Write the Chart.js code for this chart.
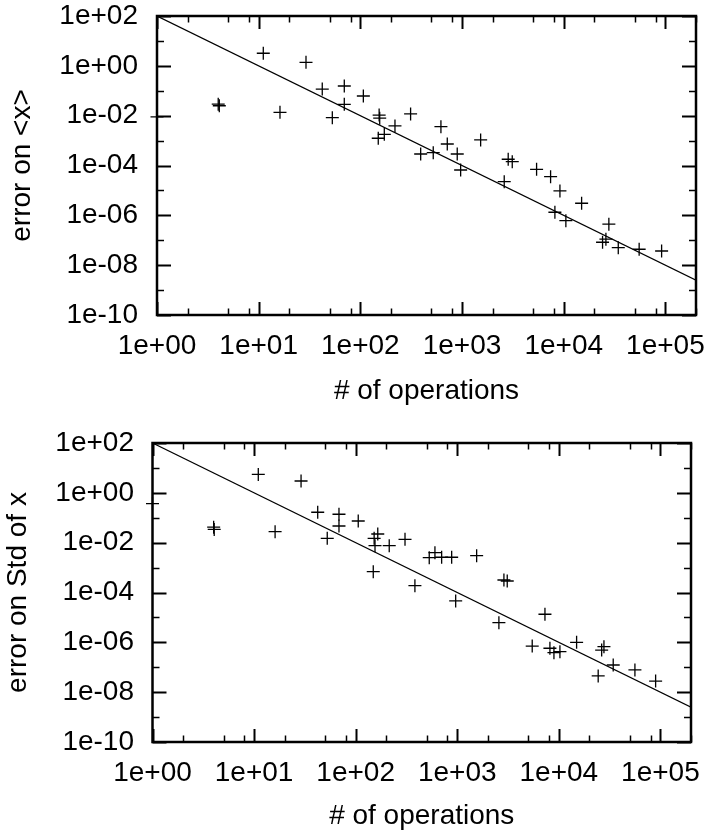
<!DOCTYPE html>
<html>
<head>
<meta charset="utf-8">
<script src="https://cdn.jsdelivr.net/npm/chart.js@4.4.1/dist/chart.umd.min.js"></script>
<style>
html, body { margin: 0; padding: 0; background: #fff; }
.caja { position: absolute; left: 0; width: 707px; height: 418px; }
</style>
</head>
<body>
<div class="caja" style="top:0"><canvas id="grafica-media" width="707" height="418"></canvas></div>
<div class="caja" style="top:418px"><canvas id="grafica-std" width="707" height="418"></canvas></div>
<script>
// error on <x>: number of operations vs error
var opsMedia = [
    1, 4.0, 4.1, 11.1, 16.2, 29.2, 42.2, 53, 69.5, 69.5,
    107, 153, 155, 150, 172, 219, 312, 392, 521, 620,
    716, 897, 969, 1524, 2600, 2845, 3118, 5410, 7430, 9180,
    8190, 10500, 15000, 27800, 24100, 26000, 34400, 55200, 91800
];
var errMedia = [
    0.009, 0.029, 0.025, 3.2, 0.0136, 1.38, 0.117, 0.0083, 0.155, 0.0286,
    0.0616, 0.0106, 0.0079, 0.00124, 0.00179, 0.00386, 0.0117, 2.9e-4, 3.27e-4, 0.00362,
    7.3e-4, 2.9e-4, 6.6e-5, 1.06e-3, 2.24e-5, 1.78e-4, 1.42e-4, 7.05e-5, 3.56e-5, 9.5e-6,
    1.33e-6, 6.1e-7, 3.05e-6, 4.4e-7, 8.3e-8, 1.1e-7, 5.04e-8, 4.35e-8, 3.7e-8
];

// error on Std of x
var opsStd = [
    1, 4.0, 4.05, 11, 16.1, 29, 42.3, 52.5, 68.5, 68.5,
    106, 165, 152, 155, 149, 214, 306, 383, 530, 603,
    702, 881, 965, 1552, 2570, 2880, 3105, 5470, 7300, 8170,
    8950, 10250, 14960, 24400, 26400, 27800, 34300, 56100, 89700
];
var errStd = [
    0.37, 0.042, 0.034, 5.5, 0.0276, 2.99, 0.166, 0.015, 0.138, 0.0467,
    0.074, 0.0223, 0.015, 0.0076, 6.85e-4, 0.0076, 0.0136, 1.88e-4, 2.5e-3, 3.96e-3,
    2.6e-3, 2.6e-3, 4.57e-5, 3.0e-3, 6.15e-6, 3.18e-4, 2.9e-4, 7.1e-7, 1.34e-5, 5.8e-7,
    3.85e-7, 4.2e-7, 1.0e-6, 4.47e-8, 4.9e-7, 6.7e-7, 1.23e-7, 7.8e-8, 2.8e-8
];

// recta de referencia (pendiente -2), extremos
var ajusteX = [1, 200000];
var ajusteY = [100, 2.5e-9];

var xTicks = [1, 10, 100, 1000, 10000, 100000];
var xTickLabels = ['1e+00', '1e+01', '1e+02', '1e+03', '1e+04', '1e+05'];
var yTicks = [1e2, 1, 1e-2, 1e-4, 1e-6, 1e-8, 1e-10];
var yTickLabels = ['1e+02', '1e+00', '1e-02', '1e-04', '1e-06', '1e-08', '1e-10'];

var fuente = { family: "'Liberation Sans', Arial, sans-serif", size: 28 };

// marco y marcas hacia dentro, como en gnuplot
var marco = {
    id: 'marco',
    afterDatasetsDraw(chart) {
        var ctx = chart.ctx, a = chart.chartArea;
        var sx = chart.scales.x, sy = chart.scales.y;
        ctx.save();
        ctx.strokeStyle = '#000';
        for (var e = -10; e <= 2; e++) {
            var py = Math.round(sy.getPixelForValue(Math.pow(10, e))) + 0.5;
            var par = (e % 2 === 0);
            var len = par ? 14 : 7;
            ctx.lineWidth = par ? 2 : 1.5;
            ctx.beginPath();
            ctx.moveTo(a.left, py); ctx.lineTo(a.left + len, py);
            ctx.moveTo(a.right, py); ctx.lineTo(a.right - len, py);
            ctx.stroke();
        }
        for (var d = 0; d <= 5; d++) {
            [1, 2, 5, 8].forEach(function (m) {
                var v = m * Math.pow(10, d);
                if (v > sx.max) return;
                var px = Math.round(sx.getPixelForValue(v)) + 0.5;
                var len = m === 1 ? 13 : 6.5;
                ctx.lineWidth = m === 1 ? 2 : 1.5;
                ctx.beginPath();
                ctx.moveTo(px, a.bottom); ctx.lineTo(px, a.bottom - len);
                ctx.moveTo(px, a.top); ctx.lineTo(px, a.top + len);
                ctx.stroke();
            });
        }
        ctx.lineWidth = 2.5;
        ctx.strokeRect(a.left, a.top, a.right - a.left, a.bottom - a.top);
        ctx.restore();
    }
};

function sinRelleno(s) {
    s.paddingTop = 0; s.paddingBottom = 0; s.paddingLeft = 0; s.paddingRight = 0;
}

function crearGrafica(id, ops, err, tituloY, caja) {
    var puntos = ops.map((v, i) => ({ x: v, y: err[i] }));
    var recta = ajusteX.map((v, i) => ({ x: v, y: ajusteY[i] }));
    return new Chart(document.getElementById(id), {
        type: 'scatter',
        data: {
            datasets: [{
                data: puntos,
                pointStyle: 'cross',
                pointRadius: 6.5,
                pointHoverRadius: 6.5,
                borderColor: '#000',
                borderWidth: 1.3,
                clip: false
            }, {
                type: 'line',
                data: recta,
                showLine: true,
                pointRadius: 0,
                borderColor: '#000',
                borderWidth: 1.2,
                fill: false
            }]
        },
        options: {
            responsive: false,
            animation: false,
            devicePixelRatio: 1,
            layout: { padding: { top: caja.top, right: caja.right, left: 0, bottom: 0 } },
            plugins: { legend: { display: false }, tooltip: { enabled: false } },
            scales: {
                x: {
                    type: 'logarithmic',
                    min: 1,
                    max: 200000,
                    afterBuildTicks: s => { s.ticks = xTicks.map(v => ({ value: v })); },
                    afterFit: s => { s.height = caja.ejeX; sinRelleno(s); },
                    grid: { display: false, drawTicks: false },
                    border: { display: false },
                    ticks: {
                        autoSkip: false, maxRotation: 0, padding: 14,
                        color: '#000', font: fuente,
                        callback: (v, i) => xTickLabels[i]
                    },
                    title: {
                        display: true, text: '# of operations', color: '#000', font: fuente,
                        padding: { top: 0, bottom: caja.tituloX }
                    }
                },
                y: {
                    type: 'logarithmic',
                    min: 1e-10,
                    max: 100,
                    afterBuildTicks: s => { s.ticks = yTicks.map(v => ({ value: v })); },
                    afterFit: s => { s.width = caja.left; sinRelleno(s); },
                    grid: { display: false, drawTicks: false },
                    border: { display: false },
                    ticks: {
                        autoSkip: false, padding: caja.padY,
                        color: '#000', font: fuente,
                        callback: (v, i) => yTickLabels[i]
                    },
                    title: {
                        display: true, text: tituloY, color: '#000', font: fuente,
                        padding: { top: caja.tituloY, bottom: 0 }
                    }
                }
            }
        },
        plugins: [marco]
    });
}

crearGrafica('grafica-media', opsMedia, errMedia, 'error on <x>',
    { top: 16, right: 11, left: 157, ejeX: 103, padY: 19, tituloX: 10, tituloY: 5.7 });
crearGrafica('grafica-std', opsStd, errStd, 'error on Std of x',
    { top: 25, right: 16, left: 152.5, ejeX: 94, padY: 18.5, tituloX: 2.5, tituloY: 1.5 });
</script>
</body>
</html>
